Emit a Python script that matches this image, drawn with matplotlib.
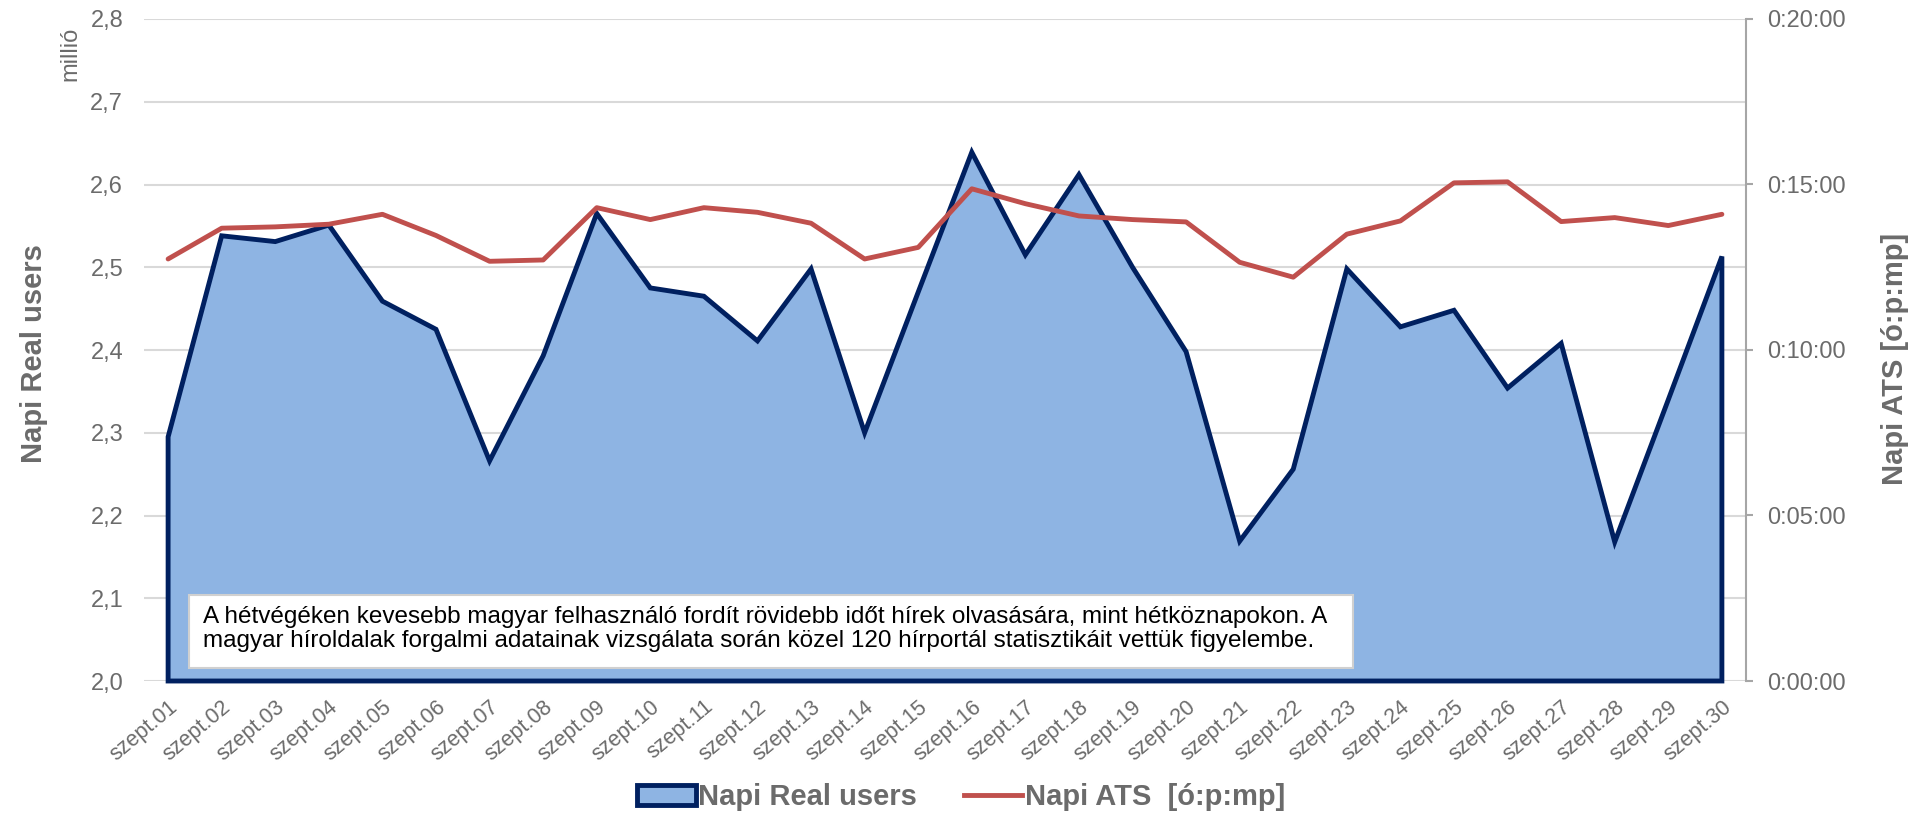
import matplotlib
matplotlib.use("Agg")
import matplotlib.pyplot as plt
from matplotlib.patches import Patch, Rectangle
from matplotlib.lines import Line2D
from matplotlib.ticker import FuncFormatter, MultipleLocator

plt.rcParams['font.family'] = ['Liberation Sans', 'DejaVu Sans']

days = [f"szept.{i:02d}" for i in range(1, 31)]
real_users = [2.295, 2.538, 2.531, 2.551, 2.459, 2.425, 2.266, 2.393, 2.565, 2.475,
              2.465, 2.411, 2.498, 2.300, 2.470, 2.639, 2.515, 2.612, 2.500, 2.398,
              2.169, 2.256, 2.498, 2.428, 2.448, 2.354, 2.408, 2.168, 2.340, 2.513]
ats_minutes = [12.75, 13.68, 13.72, 13.80, 14.10, 13.46, 12.68, 12.72, 14.30, 13.94,
               14.30, 14.16, 13.83, 12.75, 13.10, 14.87, 14.42, 14.05, 13.94, 13.87,
               12.65, 12.20, 13.50, 13.90, 15.05, 15.08, 13.88, 14.00, 13.76, 14.10]
note_lines = ["A hétvégéken kevesebb magyar felhasználó fordít rövidebb időt hírek olvasására, mint hétköznapokon. A",
              "magyar híroldalak forgalmi adatainak vizsgálata során közel 120 hírportál statisztikáit vettük figyelembe."]

GRAY = '#6b6b6b'
FILL = '#8eb4e3'
NAVY = '#002060'
RED = '#c0504d'
YMIN, YMAX = 2.0, 2.8
W, H = 1915, 813

fig = plt.figure(figsize=(W / 100, H / 100), dpi=100)
ax = fig.add_axes([144 / W, 1 - 681 / H, 1602 / W, 662 / H])
ax2 = ax.twinx()

x = list(range(len(days)))
xs = [x[0]] + x + [x[-1], x[0]]
ys = [YMIN] + real_users + [YMIN, YMIN]
ax.fill(xs, ys, facecolor=FILL, edgecolor=NAVY, linewidth=3.5, joinstyle='miter', clip_on=False, zorder=3)

ax.set_xlim(-0.45, len(days) - 0.55)
ax.set_ylim(YMIN, YMAX)
ax.yaxis.set_major_locator(MultipleLocator(0.1))
ax.yaxis.set_major_formatter(FuncFormatter(lambda v, p: f"{v:.1f}".replace('.', ',')))
ax.grid(axis='y', color='#d9d9d9', linewidth=1.5, zorder=0)
ax.set_axisbelow(True)
for s in ['left', 'top', 'right', 'bottom']:
    ax.spines[s].set_visible(False)
ax.tick_params(axis='y', length=0, pad=15, labelsize=17, labelcolor=GRAY)
ax.set_xticks(x)
ax.set_xticklabels(days, rotation=40, ha='right', va='top', rotation_mode='anchor')
ax.tick_params(axis='x', length=0, pad=11, labelsize=15.5, labelcolor=GRAY)
ax.set_ylabel("Napi Real users", fontsize=21, fontweight='bold', color=GRAY)
ax.yaxis.set_label_coords(-0.060, 0.495)

ax2.plot(x, ats_minutes, color=RED, linewidth=3.5, solid_capstyle='round', zorder=4)
ax2.set_ylim(0, 20)
ax2.yaxis.set_major_locator(MultipleLocator(5))
ax2.yaxis.set_major_formatter(FuncFormatter(lambda v, p: f"0:{int(round(v)):02d}:00"))
for s in ['left', 'top', 'bottom']:
    ax2.spines[s].set_visible(False)
ax2.spines['right'].set_color('#a6a6a6')
ax2.spines['right'].set_linewidth(1.5)
ax2.tick_params(axis='y', length=5, width=1.5, color='#a6a6a6', pad=10, labelsize=17, labelcolor=GRAY)
ax2.set_ylabel("Napi ATS [ó:p:mp]", fontsize=21, fontweight='bold', color=GRAY)
ax2.yaxis.set_label_coords(1.084, 0.486)

fig.text(70 / W, 1 - 54 / H, "millió", rotation=90, fontsize=17, color=GRAY, ha='center', va='center')

fig.add_artist(Rectangle((189 / W, 1 - 668 / H), (1353 - 189) / W, 73 / H, transform=fig.transFigure,
                         facecolor='white', edgecolor='#d0d0d0', linewidth=1.5, zorder=9))
fig.text(203 / W, 1 - 629 / H, "\n".join(note_lines), fontsize=17.5, color='black', ha='left', va='center',
         linespacing=1.12, zorder=10)

handles = [Patch(facecolor=FILL, edgecolor=NAVY, linewidth=3.5),
           Line2D([0], [0], color=RED, linewidth=3.5)]
leg = fig.legend(handles, ["Napi Real users", "Napi ATS  [ó:p:mp]"], loc='center',
                 bbox_to_anchor=(0.502, 1 - 797 / H), ncol=2, frameon=False,
                 prop={'size': 21, 'weight': 'bold'}, handlelength=2.0, handletextpad=0.1,
                 columnspacing=1.6)
for t in leg.get_texts():
    t.set_color(GRAY)

fig.savefig("out.png", dpi=100)
